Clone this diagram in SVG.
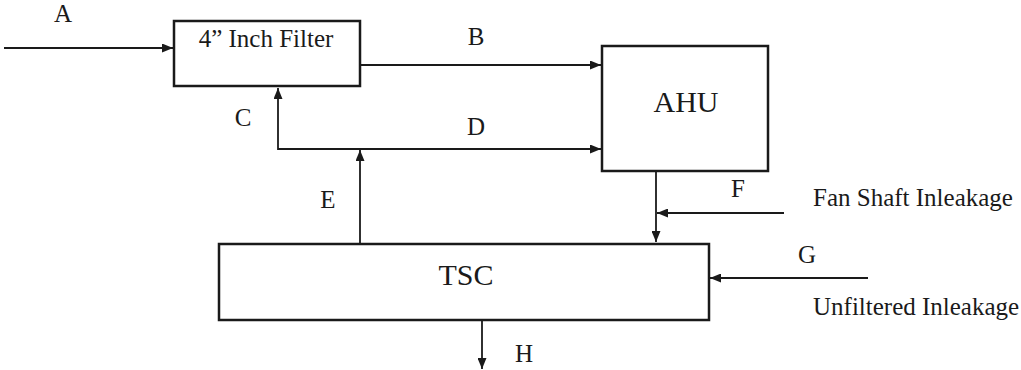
<svg xmlns="http://www.w3.org/2000/svg" width="1021" height="370" viewBox="0 0 1021 370">
<style>
.box{fill:#fff;stroke:#1a1a1a;stroke-width:2.5}
.ln{fill:none;stroke:#1a1a1a;stroke-width:1.8}
.arr{marker-end:url(#ah)}
.t{font-family:'Liberation Serif','Times New Roman',serif;fill:#1a1a1a}
.lbl{font-size:25px;text-anchor:middle}
.big{font-size:30px;text-anchor:middle}
.side{font-size:25px}
</style>
<defs>
<marker id="ah" markerUnits="userSpaceOnUse" markerWidth="11" markerHeight="9" refX="11" refY="4.5" orient="auto">
<path d="M0,0 L11,4.5 L0,9 z" fill="#1a1a1a"/>
</marker>
</defs>
<rect width="1021" height="370" fill="#fff"/>
<g id="connectors">
<line class="ln arr" x1="4" y1="48" x2="173" y2="48"/>
<line class="ln arr" x1="360" y1="65" x2="601" y2="65"/>
<line class="ln arr" x1="278" y1="149" x2="601" y2="149"/>
<line class="ln arr" x1="278" y1="149.9" x2="278" y2="88"/>
<line class="ln arr" x1="360" y1="243" x2="360" y2="150"/>
<line class="ln arr" x1="656" y1="171" x2="656" y2="242"/>
<line class="ln arr" x1="784" y1="213" x2="657" y2="213"/>
<line class="ln arr" x1="868" y1="278" x2="710" y2="278"/>
<line class="ln arr" x1="482" y1="320" x2="482" y2="369"/>
</g>
<g id="filter">
<rect class="box" x="174" y="21" width="186" height="65"/>
<text class="t side" font-family="Liberation Serif, serif" x="266" y="47" text-anchor="middle">4” Inch Filter</text>
</g>
<g id="ahu">
<rect class="box" x="602" y="46" width="166" height="125"/>
<text class="t big" font-family="Liberation Serif, serif" x="686" y="112">AHU</text>
</g>
<g id="tsc">
<rect class="box" x="219" y="244" width="490" height="76"/>
<text class="t big" font-family="Liberation Serif, serif" x="466" y="285">TSC</text>
</g>
<g id="labels" font-family="Liberation Serif, serif">
<text class="t lbl" x="63" y="22">A</text>
<text class="t lbl" x="476" y="45">B</text>
<text class="t lbl" x="243" y="126">C</text>
<text class="t lbl" x="476" y="135">D</text>
<text class="t lbl" x="328" y="208">E</text>
<text class="t lbl" x="738" y="197">F</text>
<text class="t lbl" x="807" y="263">G</text>
<text class="t lbl" x="524" y="362">H</text>
<text class="t side" x="813" y="206">Fan Shaft Inleakage</text>
<text class="t side" x="813" y="315">Unfiltered Inleakage</text>
</g>
</svg>
